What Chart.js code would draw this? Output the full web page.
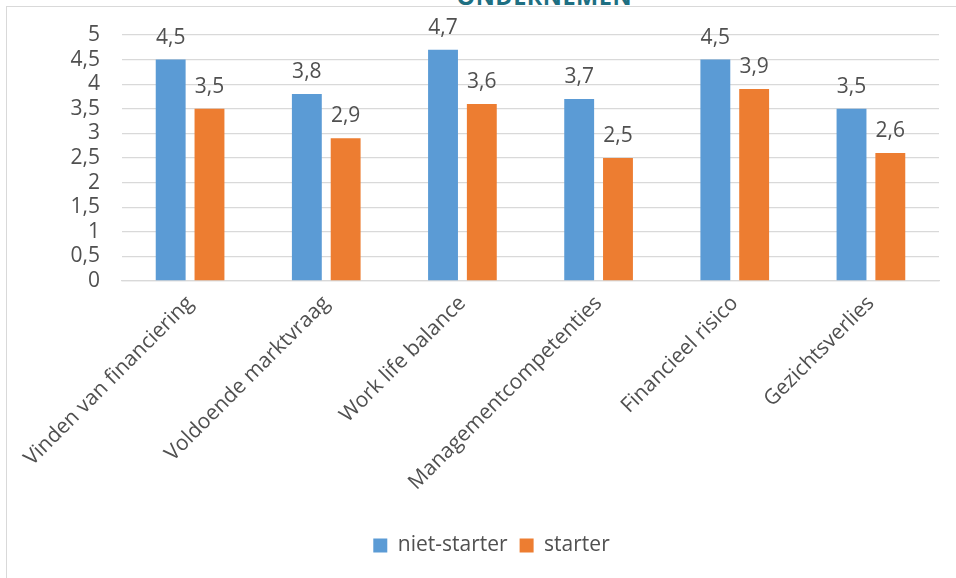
<!DOCTYPE html>
<html>
<head>
<meta charset="utf-8">
<script src="https://cdn.jsdelivr.net/npm/chart.js@4/dist/chart.umd.min.js"></script>
<style>
  html, body { margin: 0; padding: 0; background: #ffffff; }
  body { width: 956px; height: 578px; position: relative; overflow: hidden; }
  #frame { position: absolute; left: 6px; top: 6px; width: 1100px; height: 700px;
           border-left: 1.5px solid #d9d9d9; border-top: 1.5px solid #d9d9d9; box-sizing: border-box; }
  #head { position: absolute; right: 324px; top: -15px; font-family: "Open Sans", sans-serif; text-align: right;
          font-weight: bold; font-size: 23.5px; letter-spacing: 0.5px; color: #1e6f82; line-height: 22px; white-space: nowrap; }
  #wrap { position: absolute; left: 0; top: 0; width: 956px; height: 578px; }
</style>
</head>
<body>
<div id="frame"></div>
<div id="head">ONDERNEMEN</div>
<div id="wrap"><canvas id="c" width="956" height="578"></canvas></div>
<script>
const categories = ["Vinden van financiering", "Voldoende marktvraag", "Work life balance",
  "Managementcompetenties", "Financieel risico", "Gezichtsverlies"];
const nietStarter = [4.5, 3.8, 4.7, 3.7, 4.5, 3.5];
const starter = [3.5, 2.9, 3.6, 2.5, 3.9, 2.6];
const seriesNames = ["niet-starter", "starter"];
const yTicks = [0, 0.5, 1, 1.5, 2, 2.5, 3, 3.5, 4, 4.5, 5];

const FONT = "'Open Sans', sans-serif";
const FS = 21;
const TEXT = "#505050";
const fmt = v => String(v).replace('.', ',');

const labelPlugin = {
  id: 'valueLabels',
  afterDatasetsDraw(chart) {
    const ctx = chart.ctx;
    ctx.save();
    ctx.font = FS + "px " + FONT;
    ctx.fillStyle = TEXT;
    ctx.textAlign = 'center';
    ctx.textBaseline = 'alphabetic';
    chart.data.datasets.forEach((ds, i) => {
      const meta = chart.getDatasetMeta(i);
      meta.data.forEach((el, j) => {
        ctx.fillText(fmt(ds.data[j]), el.x, el.y - 16);
      });
    });
    ctx.restore();
  }
};

new Chart(document.getElementById('c'), {
  type: 'bar',
  data: {
    labels: categories,
    datasets: [
      { label: seriesNames[0], data: nietStarter, backgroundColor: '#5b9bd5',
        categoryPercentage: 0.57, barPercentage: 0.77 },
      { label: seriesNames[1], data: starter, backgroundColor: '#ed7d31',
        categoryPercentage: 0.57, barPercentage: 0.77 }
    ]
  },
  options: {
    responsive: false,
    animation: false,
    devicePixelRatio: 1,
    layout: { padding: { top: 35, right: 17, left: 44, bottom: 12 } },
    plugins: {
      legend: {
        position: 'bottom',
        labels: { boxWidth: 14, boxHeight: 14, color: TEXT, font: { size: FS, family: FONT }, padding: 12 }
      },
      tooltip: { enabled: false }
    },
    scales: {
      y: {
        min: 0, max: 5,
        afterBuildTicks: s => { s.ticks = yTicks.map(v => ({ value: v })); },
        afterFit: s => { s.width = 78; },
        grid: { color: '#d9d9d9', lineWidth: 1.3, drawTicks: false },
        border: { display: false },
        ticks: { color: TEXT, font: { size: FS, family: FONT }, padding: 22, autoSkip: false,
                 callback: (v, i) => fmt(yTicks[i]) }
      },
      x: {
        afterFit: s => { s.height = 242; },
        grid: { display: false, drawTicks: false },
        border: { color: '#d9d9d9', width: 1.3 },
        ticks: { color: TEXT, font: { size: FS, family: FONT }, minRotation: 45, maxRotation: 45, padding: 10, autoSkip: false }
      }
    }
  },
  plugins: [labelPlugin]
});
</script>
</body>
</html>
